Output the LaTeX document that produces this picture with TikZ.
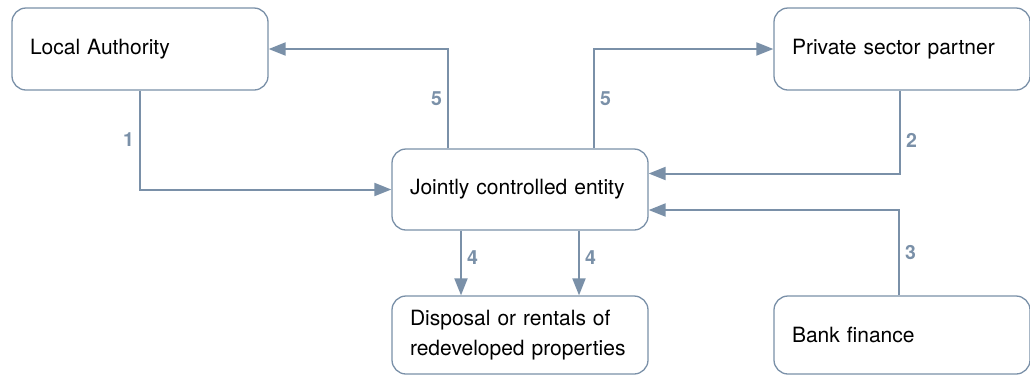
\documentclass[tikz,border=0pt]{standalone}
\usepackage{fontspec}
\setmainfont{TeX Gyre Heros}
\usetikzlibrary{arrows.meta,calc}
\definecolor{slate}{HTML}{7A90A8}
\tikzset{
    block/.style = {draw=slate, line width=1.3pt, rectangle, rounded corners=14pt,
        minimum height=82pt,
        minimum width=256pt, text width=220pt, align=left,
        font=\fontsize{21}{30}\selectfont},
    arrow/.style={draw=slate, line width=2pt, -{Triangle[length=17pt,width=13pt]}},
    num/.style = {text=slate, font=\fontsize{19.5}{19.5}\selectfont\bfseries, inner sep=5pt}
}
\begin{document}
\begin{tikzpicture}[x=1pt,y=-1pt]
                \useasboundingbox (0,0) rectangle (1030,376);
                \node[block] (la) at (140,49) {Local Authority};
                \node[block] (psp) at (902,49) {Private sector partner};
                \node[block, minimum height=81pt] (jce) at (520,189.5) {Jointly controlled entity};
                \node[block, minimum height=78pt] (disp) at (520,335) {Disposal or rentals of\\redeveloped properties};
                \node[block, minimum height=78pt] (bank) at (902,335) {Bank finance};
                \draw [arrow] (la.south) |- node[num, left, pos=.25] {1} (jce.west);
                \draw [arrow] ([xshift=-72pt]jce.north) |- node[num, left, pos=.25] {5} (la.east);
                \draw [arrow] ([xshift=74pt]jce.north) |- node[num, right, pos=.25] {5} (psp.west);
                \draw [arrow] ([xshift=-2pt]psp.south) |- node[num, right, pos=.3] {2} ([yshift=16pt]jce.east);
                \draw [arrow] ([xshift=-3pt]bank.north) |- node[num, right, pos=.25] {3} ([yshift=-20.5pt]jce.east);
                \draw [arrow] ([xshift=-59pt]jce.south) -- node[num, right, pos=.42] {4} ([xshift=-59pt]disp.north);
                \draw [arrow] ([xshift=59pt]jce.south) -- node[num, right, pos=.42] {4} ([xshift=59pt]disp.north);
            \end{tikzpicture}
\end{document}
